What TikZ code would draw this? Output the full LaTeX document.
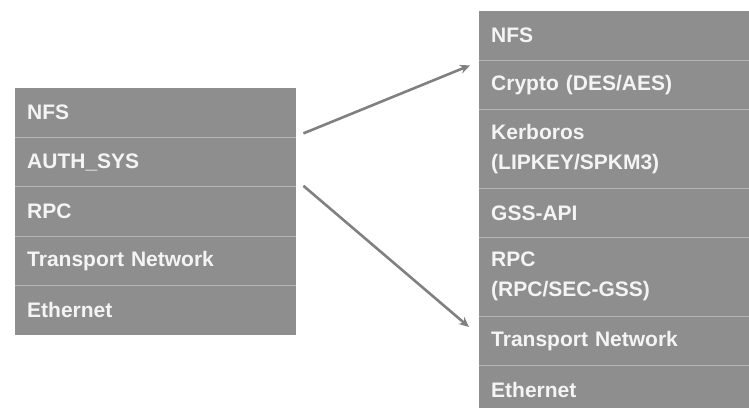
\documentclass[tikz,border=0pt]{standalone}
\usepackage{fontspec}
\setmainfont{Liberation Sans}
\usetikzlibrary{positioning,arrows.meta}
\definecolor{layergray}{HTML}{8E8E8E}
\definecolor{sepgray}{HTML}{B6B6B6}
\definecolor{arrowgray}{HTML}{808080}
\definecolor{labelwhite}{HTML}{F4F4F4}

\begin{document}
\begin{tikzpicture}[x=1pt,y=1pt,node distance=0pt,
		layer/.style = {rectangle, fill=layergray, text=labelwhite, inner xsep=12pt, inner ysep=0pt,
			font=\fontsize{21}{30}\selectfont\bfseries, align=left, minimum height=49pt},
		left layer/.style = {layer, text width=257pt},
		right layer/.style = {layer, text width=248pt},
		sep line/.style = {draw=sepgray, line width=0.8pt},
		flow/.style = {draw=arrowgray, line width=2.6pt, -{Stealth[length=10pt,width=9pt]}}]
	
	\useasboundingbox (0,0) rectangle (749,-407);
	
	% old stack
	\node[left layer, anchor=north west] at (15,-88) (lnfs) {NFS};
	\node[left layer] [below=of lnfs] (lauth) {AUTH\_SYS};
	\node[left layer] [below=of lauth] (lrpc) {RPC};
	\node[left layer] [below=of lrpc] (ltrans) {Transport Network};
	\node[left layer] [below=of ltrans] (leth) {Ethernet};
	
	% secure stack
	\node[right layer, anchor=north west] at (479,-11) (rnfs) {NFS};
	\node[right layer] [below=of rnfs] (rcrypto) {Crypto (DES/AES)};
	\node[right layer, minimum height=78pt] [below=of rcrypto] (rkerb) {Kerboros\\(LIPKEY/SPKM3)};
	\node[right layer] [below=of rkerb] (rgss) {GSS-API};
	\node[right layer, minimum height=78pt] [below=of rgss] (rrpc) {RPC\\(RPC/SEC-GSS)};
	\node[right layer] [below=of rrpc] (rtrans) {Transport Network};
	\node[right layer] [below=of rtrans] (reth) {Ethernet};
	
	\foreach \n in {lnfs,lauth,lrpc,ltrans,rnfs,rcrypto,rkerb,rgss,rrpc,rtrans}
		\draw[sep line] (\n.south west) -- (\n.south east);
	
	\draw[flow] ([shift={(7pt,4pt)}]lauth.north east) -- ([shift={(-9pt,-5pt)}]rcrypto.north west);
	\draw[flow] ([shift={(7pt,1pt)}]lrpc.north east) -- ([shift={(-10pt,-11pt)}]rtrans.north west);
	
\end{tikzpicture}
\end{document}
